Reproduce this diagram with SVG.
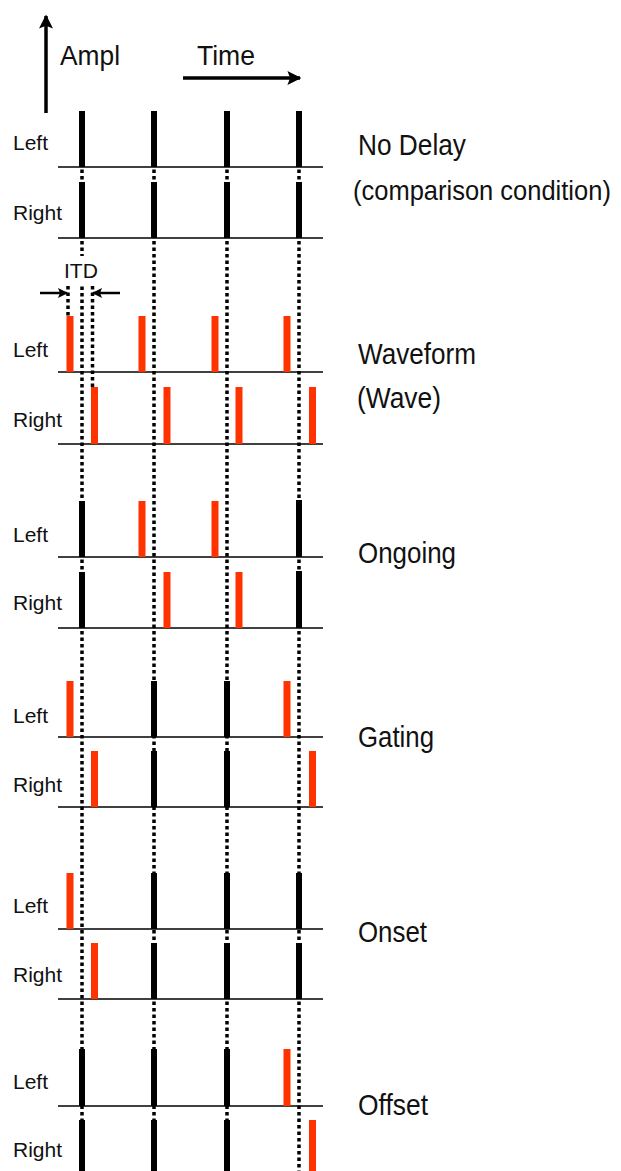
<svg xmlns="http://www.w3.org/2000/svg" width="621" height="1171" viewBox="0 0 621 1171">
<style>
text{font-family:"Liberation Sans",Arial,sans-serif;fill:#111}
.ch{font-size:21px}
.big{font-size:29px}
.ax{font-size:28px}
.base{stroke:#000;stroke-width:1.6}
.blk{fill:#000}
.red{fill:#ff3300}
.dot{stroke:#000;stroke-width:3.5;stroke-dasharray:3.5 3;fill:none}
.arr{stroke:#000;fill:none}
</style>
<defs>
<marker id="ah" viewBox="0 0 10 10" refX="9" refY="5" markerWidth="5.5" markerHeight="4" orient="auto" markerUnits="strokeWidth">
<path d="M0,0 L10,5 L0,10 L2,5 z" fill="#000"/>
</marker>
<marker id="ahs" viewBox="0 0 10 10" refX="9" refY="5" markerWidth="4" markerHeight="4" orient="auto" markerUnits="strokeWidth">
<path d="M0,0 L10,5 L0,10 L2,5 z" fill="#000"/>
</marker>
</defs>
<rect width="621" height="1171" fill="#fff"/>

<g id="connectors">
<line class="dot" x1="82" y1="111" x2="82" y2="1171"/>
<line class="dot" x1="154" y1="111" x2="154" y2="1171"/>
<line class="dot" x1="227" y1="111" x2="227" y2="1171"/>
<line class="dot" x1="299" y1="111" x2="299" y2="1171"/>
<line class="dot" x1="68" y1="286" x2="68" y2="316"/>
<line class="dot" x1="92.5" y1="286" x2="92.5" y2="387"/>
<line class="arr" stroke-width="3.5" x1="46" y1="113" x2="46" y2="16" marker-end="url(#ah)"/>
<line class="arr" stroke-width="3.5" x1="183" y1="78" x2="300" y2="78" marker-end="url(#ah)"/>
<line class="arr" stroke-width="2.5" x1="40" y1="293" x2="67" y2="293" marker-end="url(#ahs)"/>
<line class="arr" stroke-width="2.5" x1="120" y1="293" x2="93" y2="293" marker-end="url(#ahs)"/>
</g>

<g id="axes">
<text class="ax" x="60" y="65" textLength="60" lengthAdjust="spacingAndGlyphs">Ampl</text>
<text class="ax" x="197" y="65" textLength="58" lengthAdjust="spacingAndGlyphs">Time</text>
<rect x="62" y="256" width="38" height="28" fill="#fff"/>
<text class="ch" x="64" y="278" textLength="34" lengthAdjust="spacingAndGlyphs">ITD</text>
</g>

<g id="nodelay">
<line class="base" x1="58" y1="167" x2="323" y2="167"/>
<line class="base" x1="58" y1="238" x2="323" y2="238"/>
<rect class="blk" x="79" y="111" width="6" height="56"/>
<rect class="blk" x="151" y="111" width="6" height="56"/>
<rect class="blk" x="224" y="111" width="6" height="56"/>
<rect class="blk" x="296" y="111" width="6" height="56"/>
<rect class="blk" x="79" y="182" width="6" height="56"/>
<rect class="blk" x="151" y="182" width="6" height="56"/>
<rect class="blk" x="224" y="182" width="6" height="56"/>
<rect class="blk" x="296" y="182" width="6" height="56"/>
<text class="ch" x="13" y="150">Left</text>
<text class="ch" x="13" y="220">Right</text>
<text class="big" x="358" y="155" textLength="108" lengthAdjust="spacingAndGlyphs">No Delay</text>
<text transform="translate(353,200) scale(1,1.1)" x="0" y="0" style="font-size:25.5px">(comparison condition)</text>
</g>

<g id="waveform">
<line class="base" x1="58" y1="372" x2="323" y2="372"/>
<line class="base" x1="58" y1="444" x2="323" y2="444"/>
<rect class="red" x="66.5" y="316" width="7" height="56"/>
<rect class="red" x="138.5" y="316" width="7" height="56"/>
<rect class="red" x="211.5" y="316" width="7" height="56"/>
<rect class="red" x="283.5" y="316" width="7" height="56"/>
<rect class="red" x="91" y="387" width="7" height="57"/>
<rect class="red" x="163.5" y="387" width="7" height="57"/>
<rect class="red" x="235.5" y="387" width="7" height="57"/>
<rect class="red" x="309" y="387" width="7" height="57"/>
<text class="ch" x="13" y="357">Left</text>
<text class="ch" x="13" y="427">Right</text>
<text class="big" x="358" y="364" textLength="118" lengthAdjust="spacingAndGlyphs">Waveform</text>
<text class="big" x="357" y="408" textLength="84" lengthAdjust="spacingAndGlyphs">(Wave)</text>
</g>

<g id="ongoing">
<line class="base" x1="58" y1="557" x2="323" y2="557"/>
<line class="base" x1="58" y1="628" x2="323" y2="628"/>
<rect class="blk" x="79" y="501" width="6" height="56"/>
<rect class="red" x="138.5" y="501" width="7" height="56"/>
<rect class="red" x="211.5" y="501" width="7" height="56"/>
<rect class="blk" x="296" y="500" width="6" height="57"/>
<rect class="blk" x="79" y="572" width="6" height="56"/>
<rect class="red" x="163.5" y="572" width="7" height="56"/>
<rect class="red" x="235.5" y="572" width="7" height="56"/>
<rect class="blk" x="296" y="571" width="6" height="57"/>
<text class="ch" x="13" y="542">Left</text>
<text class="ch" x="13" y="610">Right</text>
<text class="big" x="358" y="563" textLength="98" lengthAdjust="spacingAndGlyphs">Ongoing</text>
</g>

<g id="gating">
<line class="base" x1="58" y1="737" x2="323" y2="737"/>
<line class="base" x1="58" y1="807" x2="323" y2="807"/>
<rect class="red" x="66.5" y="681" width="7" height="56"/>
<rect class="blk" x="151" y="681" width="6" height="56"/>
<rect class="blk" x="224" y="681" width="6" height="56"/>
<rect class="red" x="283.5" y="681" width="7" height="56"/>
<rect class="red" x="91" y="751" width="7" height="56"/>
<rect class="blk" x="151" y="751" width="6" height="56"/>
<rect class="blk" x="224" y="751" width="6" height="56"/>
<rect class="red" x="309" y="751" width="7" height="56"/>
<text class="ch" x="13" y="723">Left</text>
<text class="ch" x="13" y="792">Right</text>
<text class="big" x="358" y="747" textLength="76" lengthAdjust="spacingAndGlyphs">Gating</text>
</g>

<g id="onset">
<line class="base" x1="58" y1="929" x2="323" y2="929"/>
<line class="base" x1="58" y1="999" x2="323" y2="999"/>
<rect class="red" x="66.5" y="873" width="7" height="56"/>
<rect class="blk" x="151" y="873" width="6" height="56"/>
<rect class="blk" x="224" y="873" width="6" height="56"/>
<rect class="blk" x="296" y="873" width="6" height="56"/>
<rect class="red" x="91" y="943" width="7" height="56"/>
<rect class="blk" x="151" y="943" width="6" height="56"/>
<rect class="blk" x="224" y="943" width="6" height="56"/>
<rect class="blk" x="296" y="943" width="6" height="56"/>
<text class="ch" x="13" y="913">Left</text>
<text class="ch" x="13" y="982">Right</text>
<text class="big" x="358" y="942" textLength="69" lengthAdjust="spacingAndGlyphs">Onset</text>
</g>

<g id="offset">
<line class="base" x1="58" y1="1106" x2="323" y2="1106"/>
<rect class="blk" x="79" y="1049" width="6" height="57"/>
<rect class="blk" x="151" y="1049" width="6" height="57"/>
<rect class="blk" x="224" y="1049" width="6" height="57"/>
<rect class="red" x="283.5" y="1049" width="7" height="57"/>
<rect class="blk" x="79" y="1120" width="6" height="51"/>
<rect class="blk" x="151" y="1120" width="6" height="51"/>
<rect class="blk" x="224" y="1120" width="6" height="51"/>
<rect class="red" x="309" y="1120" width="7" height="51"/>
<text class="ch" x="13" y="1089">Left</text>
<text class="ch" x="13" y="1157">Right</text>
<text class="big" x="358" y="1115" textLength="70" lengthAdjust="spacingAndGlyphs">Offset</text>
</g>
</svg>
